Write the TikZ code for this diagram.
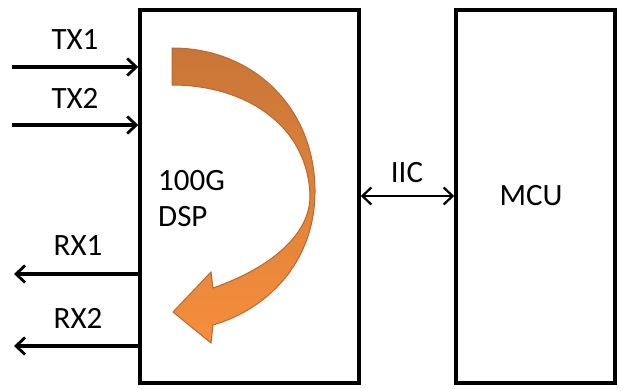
\documentclass[tikz,border=0pt]{standalone}
\usepackage{fontspec}
\setmainfont{Carlito}
\usetikzlibrary{arrows.meta}
\definecolor{arrtop}{RGB}{200,118,56}
\definecolor{arrbot}{RGB}{246,142,60}
\definecolor{arredge}{RGB}{185,105,45}
\begin{document}
\begin{tikzpicture}[x=1pt,y=-1pt,
  blk/.style={draw=black,line width=3.5pt,inner sep=0pt},
  sig/.style={line width=3.2pt,-{Straight Barb[length=9pt,width=17pt,line width=2.8pt]}},
  bus/.style={line width=2.4pt,{Straight Barb[length=9pt,width=17pt,line width=2.2pt]}-{Straight Barb[length=9pt,width=17pt,line width=2.2pt]}},
  lbl/.style={font=\fontsize{31}{36}\selectfont,inner sep=0pt,text=black}]
\useasboundingbox (0,0) rectangle (620,388);
\fill[white] (0,0) rectangle (620,388);
% boxes
\node[blk,minimum width=219pt,minimum height=373pt] (dsp) at (249.5,196.5) {};
\node[blk,minimum width=159pt,minimum height=373pt] (mcu) at (535.5,196.5) {};
% curved arrow
\path[top color=arrtop,bottom color=arrbot,draw=arredge,line width=1pt]
  (172,48) .. controls (255,48) and (316,110) .. (315,193)
  .. controls (314,265) and (265,310) .. (213,325)
  -- (211,343) -- (173,312) -- (211,272) -- (213,288)
  .. controls (270,268) and (310,235) .. (310,196)
  .. controls (308,125) and (245,85) .. (172,85) -- cycle;
\node[lbl,anchor=west] (t1) at (158,181) {100G};
\node[lbl,anchor=west] (t2) at (158,217) {DSP};
\node[lbl] (mcut) at (531,196) {MCU};
% signals
\coordinate (tx1s) at (12,67);
\coordinate (tx2s) at (12,125);
\coordinate (rx1e) at (14,274);
\coordinate (rx2e) at (14,346);
\draw[sig] (tx1s) -- (tx1s -| dsp.west);
\draw[sig] (tx2s) -- (tx2s -| dsp.west);
\draw[sig] (rx1e -| dsp.west) -- (rx1e);
\draw[sig] (rx2e -| dsp.west) -- (rx2e);
\node[lbl] (tx1) at (75,40) {TX1};
\node[lbl] (tx2) at (75,98) {TX2};
\node[lbl] (rx1) at (78,246) {RX1};
\node[lbl] (rx2) at (78,318) {RX2};
\coordinate (busy) at (0,196);
\draw[bus] (busy -| dsp.east) -- (busy -| mcu.west);
\node[lbl] (iic) at (407,173) {IIC};
\end{tikzpicture}
\end{document}
